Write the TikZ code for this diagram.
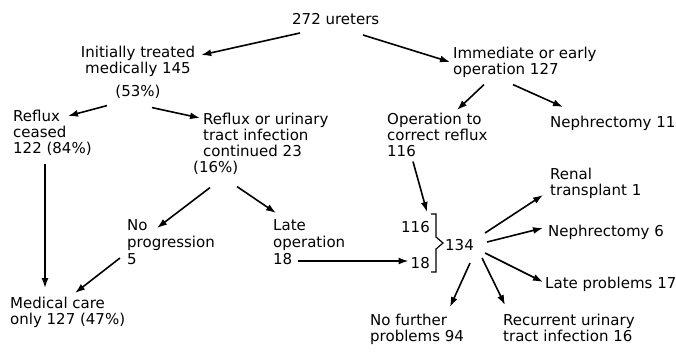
\documentclass[tikz,border=0pt]{standalone}
\usepackage{fontspec}
\setmainfont{DejaVu Sans}
\usetikzlibrary{arrows.meta}

\begin{document}
\begin{tikzpicture}[x=1pt, y=-1pt,
  lbl/.style = {align=left, inner sep=0pt, anchor=north west, font=\fontsize{15}{16}\selectfont,
    execute at begin node=\strut, execute at end node=\strut},
  arr/.style = {-{Latex[length=10pt,width=7pt]}, line width=1.6pt}]
          \useasboundingbox (0,0) rectangle (676,351);
          % nodes
          \node[lbl] (ureters) at (292,13) {272 ureters};
          \node[lbl, align=center, anchor=north] (medical) at (138,46) {Initially treated\\medically 145\\[7pt](53\%)};
          \node[lbl] (early) at (453,47) {Immediate or early\\operation 127};
          \node[lbl] (ceased) at (13,110) {Reflux\\ceased\\122 (84\%)};
          \node[lbl] (continued) at (203,113) {Reflux or urinary\\tract infection\\continued 23\\\hspace*{-10pt}(16\%)};
          \node[lbl] (correct) at (387,113) {Operation to\\correct reflux\\116};
          \node[lbl] (neph11) at (550,116) {Nephrectomy 11};
          \node[lbl] (noprog) at (127,219) {No\\[1pt]progression\\[1pt]5};
          \node[lbl] (lateop) at (273,219) {Late\\[1pt]operation\\[1pt]18};
          \node[lbl] (mcare) at (10,297) {Medical care\\only 127 (47\%)};
          \node[lbl, anchor=north east] (in116) at (430,221) {116};
          \node[lbl, anchor=north east] (in18) at (430,257) {18};
          \node[lbl] (total) at (445,239) {134};
          \node[lbl] (renal) at (550,168) {Renal\\transplant 1};
          \node[lbl] (neph6) at (548,225) {Nephrectomy 6};
          \node[lbl] (late17) at (545,277) {Late problems 17};
          \node[lbl] (nofurther) at (370,314) {No further\\problems 94};
          \node[lbl] (recurrent) at (503,314) {Recurrent urinary\\tract infection 16};

          % bracket joining 116 and 18
          \draw[line width=1.2pt] (431,214) -- (436,214) -- (436,237) -- (443,243) -- (436,249) -- (436,272) -- (431,272);

          % connections
          \draw[arr] ([xshift=8pt,yshift=-20pt]ureters.north west) -- ([xshift=6pt,yshift=-9pt]medical.north east);
          \draw[arr] ([xshift=71pt,yshift=-22pt]ureters.north west) -- ([xshift=-3pt,yshift=-15pt]early.north west);
          \draw[arr] ([xshift=-31pt,yshift=-4pt]medical.south) -- ([xshift=55pt,yshift=-6pt]ceased.north west);
          \draw[arr] ([xshift=14pt,yshift=-6pt]medical.south) -- ([xshift=-3pt,yshift=-5pt]continued.north west);
          \draw[arr] ([xshift=32pt,yshift=-5pt]ceased.south west) -- ([xshift=35pt,yshift=9pt]mcare.north west);
          \draw[arr] ([xshift=7pt,yshift=-10pt]continued.south west) -- ([xshift=30pt,yshift=-9pt]noprog.north west);
          \draw[arr] ([xshift=34pt,yshift=-9pt]continued.south west) -- ([xshift=3pt,yshift=6pt]lateop.north west);
          \draw[arr] ([xshift=-7pt,yshift=-39pt]noprog.north west) -- ([xshift=65pt,yshift=4pt]mcare.north west);
          \draw[arr] ([xshift=25pt,yshift=-42pt]lateop.north west) -- ([xshift=-2pt,yshift=-4pt]in18.north west);
          \draw[arr] ([xshift=31pt,yshift=-5pt]early.south west) -- ([xshift=70pt,yshift=3pt]correct.north west);
          \draw[arr] ([xshift=60pt,yshift=-5pt]early.south west) -- ([xshift=13pt,yshift=9pt]neph11.north west);
          \draw[arr] ([xshift=26pt,yshift=0pt]correct.south west) -- ([xshift=-3pt,yshift=9pt]in116.north east);
          \draw[arr] ([xshift=11pt,yshift=6pt]total.north east) -- ([xshift=-7pt,yshift=-27pt]renal.north west);
          \draw[arr] ([xshift=13pt,yshift=-3pt]total.north east) -- ([xshift=-5pt,yshift=-3pt]neph6.north west);
          \draw[arr] ([xshift=11pt,yshift=-14pt]total.north east) -- ([xshift=-2pt,yshift=-5pt]late17.north west);
          \draw[arr] ([xshift=8pt,yshift=-19pt]total.north east) -- ([xshift=2pt,yshift=9pt]recurrent.north west);
          \draw[arr] ([xshift=-4pt,yshift=-24pt]total.north east) -- ([xshift=80pt,yshift=7pt]nofurther.north west);
\end{tikzpicture}
\end{document}
